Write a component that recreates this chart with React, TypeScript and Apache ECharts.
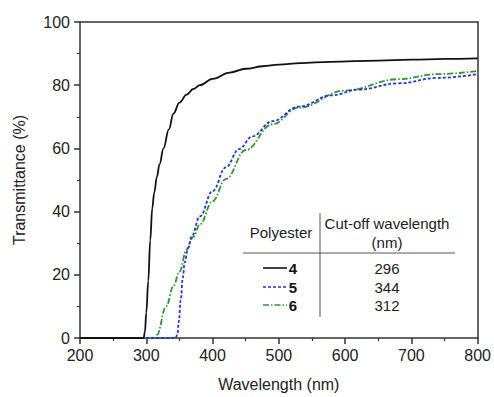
import React, { useEffect, useRef } from "react";
import * as echarts from "echarts";

// Polyester 4 (black, solid)
const wl4 = [200, 296, 298, 300, 303, 306, 309, 312, 316, 320, 326, 334, 341, 350, 361, 371, 381, 400, 426, 450, 476, 500, 532, 577, 650, 700, 750, 800];
const t4 = [0, 0, 2, 8, 18, 31, 41, 46, 51, 55, 60, 66, 71, 74.5, 77, 78.8, 80, 82, 84, 85.2, 86, 86.5, 87, 87.4, 87.8, 88.1, 88.3, 88.5];
// Polyester 5 (blue, dashed)
const wl5 = [300, 344, 347, 349, 352, 355, 358, 363, 368, 381, 400, 420, 440, 460, 490, 530, 580, 620, 680, 740, 800];
const t5 = [0, 0, 1, 5, 12, 19, 24, 28.5, 32, 38.5, 46.5, 54, 59.8, 63.8, 68.6, 73.2, 76.8, 78.6, 80.6, 82.3, 83.5];
// Polyester 6 (green, dash-dot)
const wl6 = [300, 312, 316, 330, 341, 350, 361, 371, 381, 400, 420, 450, 490, 530, 600, 680, 740, 800];
const t6 = [0, 0, 1, 10, 16.5, 21, 28, 32, 36, 43.3, 50.3, 59.5, 67.6, 72.9, 78.3, 81.9, 83.5, 84.5];

const polyesters = ["4", "5", "6"];
const cutoffs = ["296", "344", "312"];
const colors = ["#111111", "#1f2fff", "#2a9a2a"];
const dashes: (number[] | null)[] = [null, [3, 2], [6, 2, 1.5, 2]];

const xTicks = { min: 200, max: 800, interval: 100 };
const yTicks = { min: 0, max: 100, interval: 20 };

const FONT = "Liberation Sans, Arial, sans-serif";

function pairs(xs: number[], ys: number[]) {
  return xs.map((x, i) => [x, ys[i]]);
}

export default function App() {
  const ref = useRef<HTMLDivElement>(null);
  useEffect(() => {
    if (!ref.current) return;
    const chart = echarts.init(ref.current, null, { renderer: "svg" });
    const seriesData = [pairs(wl4, t4), pairs(wl5, t5), pairs(wl6, t6)];

    const rowY = [268, 287, 305];
    const graphics: any[] = [
      { type: "line", shape: { x1: 243, y1: 253, x2: 455, y2: 253 }, style: { stroke: "#555", lineWidth: 1 } },
      { type: "line", shape: { x1: 320, y1: 213, x2: 320, y2: 317 }, style: { stroke: "#555", lineWidth: 1 } },
      { type: "text", x: 281, y: 232, style: { text: "Polyester", font: `15px ${FONT}`, fill: "#222", align: "center", verticalAlign: "middle" } },
      { type: "text", x: 387, y: 223, style: { text: "Cut-off wavelength", font: `15px ${FONT}`, fill: "#222", align: "center", verticalAlign: "middle" } },
      { type: "text", x: 387, y: 242, style: { text: "(nm)", font: `15px ${FONT}`, fill: "#222", align: "center", verticalAlign: "middle" } },
    ];
    polyesters.forEach((p, i) => {
      graphics.push({
        type: "line",
        shape: { x1: 263, y1: rowY[i], x2: 287, y2: rowY[i] },
        style: { stroke: colors[i], lineWidth: 1.6, lineDash: dashes[i] || undefined },
      });
      graphics.push({
        type: "text", x: 293, y: rowY[i],
        style: { text: p, font: `bold 15px ${FONT}`, fill: "#111", align: "center", verticalAlign: "middle" },
      });
      graphics.push({
        type: "text", x: 387, y: rowY[i],
        style: { text: cutoffs[i], font: `15px ${FONT}`, fill: "#222", align: "center", verticalAlign: "middle" },
      });
    });

    const axisLineStyle = { color: "#333", width: 1.5 };
    chart.setOption({
      animation: false,
      backgroundColor: "#fff",
      grid: { left: 80, right: 16, top: 22, bottom: 54, containLabel: false },
      xAxis: [
        {
          type: "value", ...xTicks,
          name: "Wavelength (nm)", nameLocation: "middle", nameGap: 38,
          nameTextStyle: { fontFamily: FONT, fontSize: 16, color: "#222" },
          axisLine: { show: true, lineStyle: axisLineStyle },
          axisTick: { show: true, inside: false, length: 6, lineStyle: axisLineStyle },
          minorTick: { show: true, splitNumber: 2, length: 3, lineStyle: { color: "#333", width: 1.2 } },
          axisLabel: { margin: 9, fontFamily: FONT, fontSize: 16, color: "#222" },
          splitLine: { show: false },
        },
        {
          type: "value", ...xTicks, position: "top",
          axisLine: { show: true, onZero: false, lineStyle: axisLineStyle },
          axisTick: { show: false }, axisLabel: { show: false }, splitLine: { show: false },
        },
      ],
      yAxis: [
        {
          type: "value", ...yTicks,
          name: "Transmittance (%)", nameLocation: "middle", nameGap: 53,
          nameTextStyle: { fontFamily: FONT, fontSize: 16, color: "#222" },
          axisLine: { show: true, lineStyle: axisLineStyle },
          axisTick: { show: true, inside: false, length: 6, lineStyle: axisLineStyle },
          minorTick: { show: true, splitNumber: 2, length: 3, lineStyle: { color: "#333", width: 1.2 } },
          axisLabel: { margin: 10, fontFamily: FONT, fontSize: 16, color: "#222" },
          splitLine: { show: false },
        },
        {
          type: "value", ...yTicks, position: "right",
          axisLine: { show: true, onZero: false, lineStyle: axisLineStyle },
          axisTick: { show: false }, axisLabel: { show: false }, splitLine: { show: false },
        },
      ],
      series: seriesData.map((d, i) => ({
        type: "line",
        name: polyesters[i],
        data: d,
        xAxisIndex: 0,
        yAxisIndex: 0,
        showSymbol: false,
        smooth: 0.4,
        smoothMonotone: "x",
        z: 3 - i,
        lineStyle: { color: colors[i], width: 1.8, type: dashes[i] || "solid" },
      })),
      graphic: graphics,
    });
    return () => chart.dispose();
  }, []);
  return <div ref={ref} style={{ width: 494, height: 397, position: "absolute", left: 0, top: 0 }} />;
}
